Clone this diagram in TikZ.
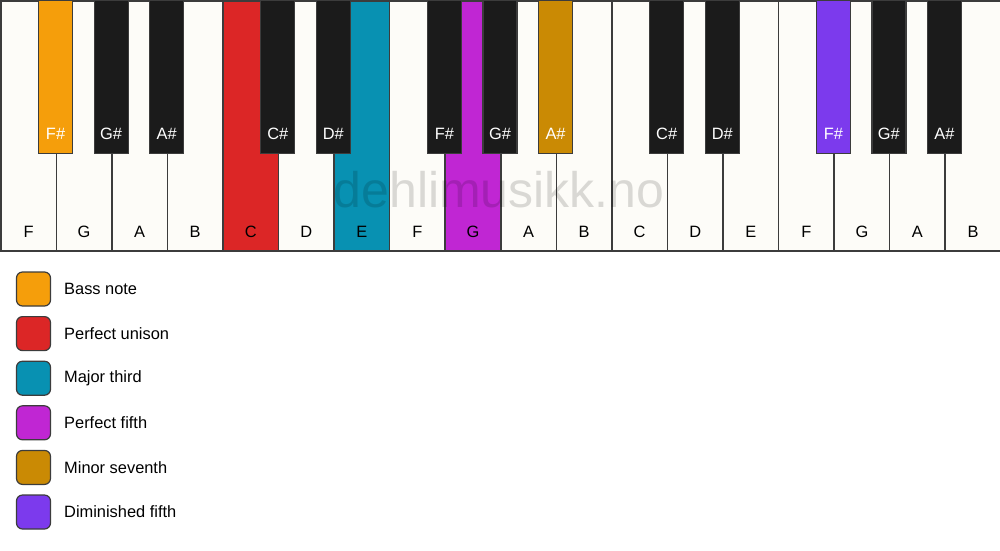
\documentclass[tikz,border=0pt]{standalone}
\usepackage{fontspec}
\setmainfont{Liberation Sans}
\definecolor{ivory}{HTML}{FDFCF8}
\definecolor{ebony}{HTML}{1B1B1B}
\definecolor{edgegray}{HTML}{3C3C3C}
\definecolor{bassorange}{HTML}{F59E0B}
\definecolor{unisonred}{HTML}{DC2626}
\definecolor{thirdteal}{HTML}{0891B2}
\definecolor{fifthpurple}{HTML}{C026D3}
\definecolor{seventhgold}{HTML}{CA8A04}
\definecolor{dimviolet}{HTML}{7C3AED}

\begin{document}
\begin{tikzpicture}[x=1pt, y=-1pt,
    whitekey/.style={draw=edgegray, line width=1.5pt, anchor=north west, inner sep=0pt,
        minimum width=55.556pt, minimum height=250pt},
    blackkey/.style={draw=edgegray, line width=1.2pt, anchor=north, inner sep=0pt,
        minimum width=34pt, minimum height=153pt},
    notelabel/.style={font=\fontsize{16.4}{19}\selectfont, inner sep=0pt},
    swatch/.style={draw=edgegray, line width=1.2pt, rounded corners=6pt, inner sep=0pt,
        minimum size=34pt},
    legendtext/.style={font=\fontsize{16.4}{19}\selectfont, anchor=west, inner sep=0pt}]
    \useasboundingbox (0,0) rectangle (1000,550);
    \fill[white] (0,0) rectangle (1000,550);

    % Teclas blancas
    \foreach \i/\note/\col in {0/F/ivory, 1/G/ivory, 2/A/ivory, 3/B/ivory, 4/C/unisonred,
            5/D/ivory, 6/E/thirdteal, 7/F/ivory, 8/G/fifthpurple, 9/A/ivory, 10/B/ivory,
            11/C/ivory, 12/D/ivory, 13/E/ivory, 14/F/ivory, 15/G/ivory, 16/A/ivory, 17/B/ivory} {
        \node[whitekey, fill=\col] (w\i) at (\i*55.556,0) {};
        \node[notelabel] (lw\i) at ([yshift=20pt]w\i.south) {\note};
    }

    % Marca de agua
    \node[font=\fontsize{50}{56}\selectfont, text=black, text opacity=0.14, anchor=base]
        (mark) at (499,207) {dehlimusikk.no};

    % Teclas negras
    \foreach \b/\note/\col in {1/F\#/bassorange, 2/G\#/ebony, 3/A\#/ebony, 5/C\#/ebony,
            6/D\#/ebony, 8/F\#/ebony, 9/G\#/ebony, 10/A\#/seventhgold, 12/C\#/ebony,
            13/D\#/ebony, 15/F\#/dimviolet, 16/G\#/ebony, 17/A\#/ebony} {
        \node[blackkey, fill=\col] (b\b) at (\b*55.556,0) {};
        \node[notelabel, text=white] (lb\b) at ([yshift=20pt]b\b.south) {\note};
    }

    % Leyenda
    \foreach \n/\col/\txt in {0/bassorange/Bass note, 1/unisonred/Perfect unison,
            2/thirdteal/Major third, 3/fifthpurple/Perfect fifth,
            4/seventhgold/Minor seventh, 5/dimviolet/Diminished fifth} {
        \node[swatch, fill=\col] (sw\n) at (33.5,289+\n*44.6) {};
        \node[legendtext] (tx\n) at (64,289+\n*44.6) {\txt};
    }
\end{tikzpicture}
\end{document}
